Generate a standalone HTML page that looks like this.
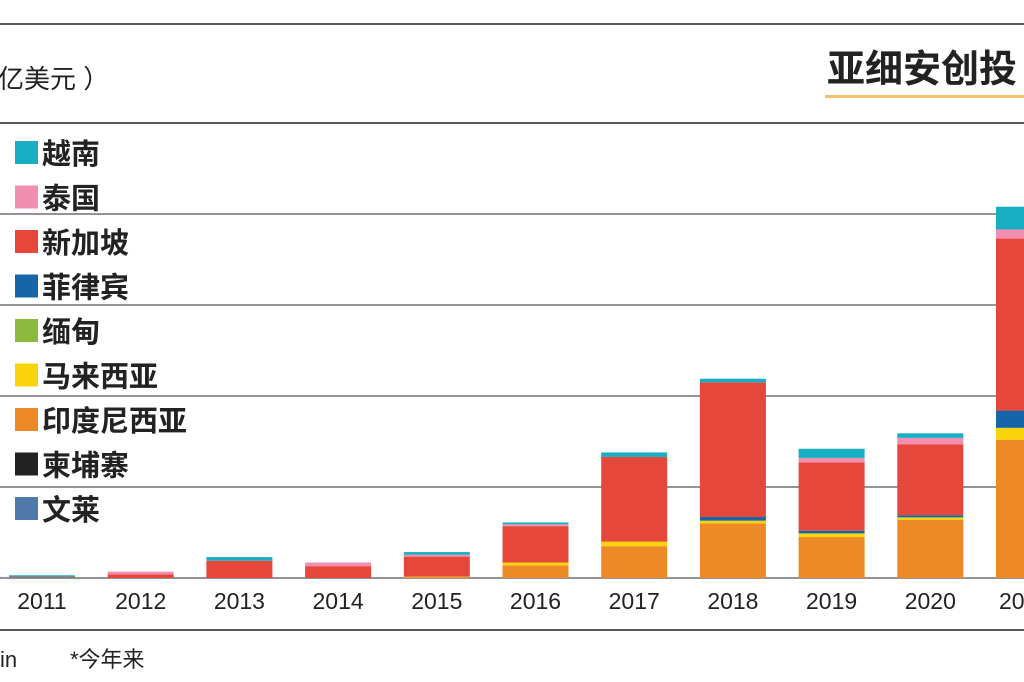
<!DOCTYPE html>
<html><head><meta charset="utf-8"><style>
html,body{margin:0;padding:0;background:#fff;width:1024px;height:682px;overflow:hidden}
svg text{font-family:"Liberation Sans","Noto Sans CJK SC",sans-serif}
</style></head><body>
<svg id="chart" width="1024" height="682">
<line x1="0" y1="24" x2="1024" y2="24" stroke="#222" stroke-width="1.5"/>
<text x="-2" y="88" font-size="26" fill="#222">亿美元 ）</text>
<text x="827" y="82" font-size="38" font-weight="bold" fill="#222">亚细安创投</text>
<rect x="825" y="95" width="199" height="3" fill="#f5c26b"/>
<g id="grid"></g><g id="bars"></g><g id="legend"></g><g id="xlabels"></g>
<line x1="0" y1="630" x2="1024" y2="630" stroke="#222" stroke-width="1.5"/>
<text x="0" y="667" font-size="22" fill="#222">in</text>
<text x="70" y="667" font-size="22" fill="#222">*今年来</text>
</svg>
<script>
const years=["2011","2012","2013","2014","2015","2016","2017","2018","2019","2020","2021*"];
const brunei=[0,0,0,0,0,0,0,0,0,0,0];
const cambodia=[0,0,0,0,0,0,0,0,0,0,0];
const indonesia=[0,0,0,0,0.1,1.4,3.5,6.0,4.5,6.4,15.2];
const malaysia=[0,0,0,0,0.05,0.3,0.5,0.3,0.4,0.2,1.3];
const myanmar=[0,0,0,0,0,0,0,0,0,0.1,0];
const philippines=[0,0,0,0,0,0,0,0.4,0.3,0.2,1.9];
const singapore=[0.1,0.4,1.9,1.3,2.2,4.0,9.3,14.8,7.5,7.8,18.9];
const thailand=[0,0.3,0,0.4,0.2,0.2,0,0,0.5,0.7,1.0];
const vietnam=[0.2,0,0.4,0,0.3,0.2,0.5,0.4,1.0,0.5,2.5];
const gridTicks=[0,10,20,30,40,50];
const series=[
 {name:"文莱",key:"brunei",v:brunei,c:"#4f79a8"},
 {name:"柬埔寨",key:"cambodia",v:cambodia,c:"#222"},
 {name:"印度尼西亚",key:"indonesia",v:indonesia,c:"#ee8a25"},
 {name:"马来西亚",key:"malaysia",v:malaysia,c:"#f9d40a"},
 {name:"缅甸",key:"myanmar",v:myanmar,c:"#8cba3f"},
 {name:"菲律宾",key:"philippines",v:philippines,c:"#1565a8"},
 {name:"新加坡",key:"singapore",v:singapore,c:"#e5473a"},
 {name:"泰国",key:"thailand",v:thailand,c:"#f28fb0"},
 {name:"越南",key:"vietnam",v:vietnam,c:"#18afc4"}];
const NS="http://www.w3.org/2000/svg";
const y0=578,pxPer=9.1;
const y=v=>y0-v*pxPer;
const xc=i=>42+i*98.7;
const bw=66;
const grid=document.getElementById('grid');
gridTicks.forEach(t=>{
 const l=document.createElementNS(NS,'line');
 l.setAttribute('x1',0);l.setAttribute('x2',1024);
 l.setAttribute('y1',y(t));l.setAttribute('y2',y(t));
 l.setAttribute('stroke',t===50?'#222':'#555');l.setAttribute('stroke-width',t===50?1.5:1.2);
 
 
 grid.appendChild(l);
});
const bars=document.getElementById('bars');
years.forEach((yr,i)=>{
 let acc=0;
 series.forEach(s=>{
  const v=s.v[i]; if(!v) return;
  const r=document.createElementNS(NS,'rect');
  r.setAttribute('x',xc(i)-bw/2);r.setAttribute('width',bw);
  r.setAttribute('y',y(acc+v));r.setAttribute('height',v*pxPer);
  r.setAttribute('fill',s.c);
  
  
  bars.appendChild(r);acc+=v;
 });
 const t=document.createElementNS(NS,'text');
 t.setAttribute('x',xc(i));t.setAttribute('y',609);t.setAttribute('font-size',23);
 t.setAttribute('text-anchor','middle');t.setAttribute('fill','#222');
 t.textContent=yr;
 
 
 document.getElementById('xlabels').appendChild(t);
});
const leg=document.getElementById('legend');
[...series].reverse().forEach((s,j)=>{
 const cy=153+j*44.5;
 const r=document.createElementNS(NS,'rect');
 r.setAttribute('x',15);r.setAttribute('y',cy-12);r.setAttribute('width',23);r.setAttribute('height',23);r.setAttribute('fill',s.c);
 
 
 leg.appendChild(r);
 const t=document.createElementNS(NS,'text');
 t.setAttribute('x',42);t.setAttribute('y',cy+11);t.setAttribute('font-size',29);t.setAttribute('font-weight','bold');t.setAttribute('fill','#222');
 t.textContent=s.name;
 
 
 leg.appendChild(t);
});
</script>
</body></html>
